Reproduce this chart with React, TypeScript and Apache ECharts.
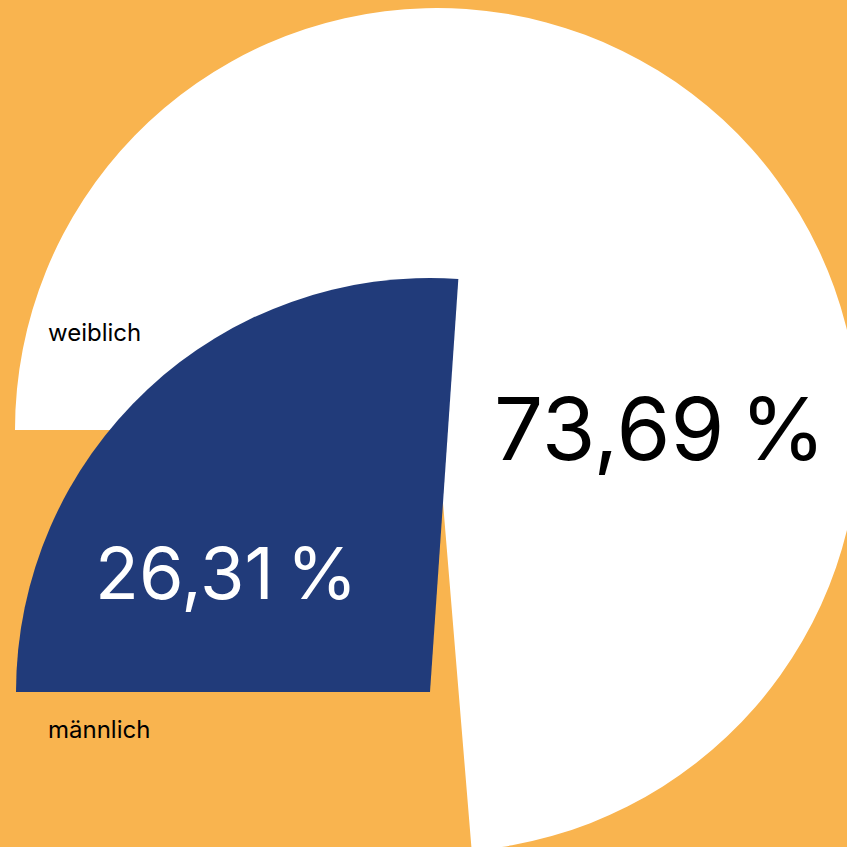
import React, { useEffect, useRef } from "react";
import * as echarts from "echarts";

const categories = ["weiblich", "männlich"];
const shares = [73.69, 26.31];
const percentLabels = ["73,69\u202F%", "26,31\u202F%"];

const ORANGE = "#F9B44F";
const WHITE = "#FFFFFF";
const BLUE = "#213B7A";
const FONT = "Inter, 'Noto Sans', sans-serif";

export default function App() {
  const ref = useRef<HTMLDivElement>(null);

  useEffect(() => {
    document.body.style.margin = "0";
    document.body.style.background = ORANGE;
    if (!ref.current) return;
    const chart = echarts.init(ref.current, null, { renderer: "svg" });

    const hidden = {
      itemStyle: { color: "transparent" },
      label: { show: false },
      labelLine: { show: false },
      emphasis: { disabled: true },
      silent: true,
    };

    const txt = (text: string, x: number, y: number, size: number, fill: string) => ({
      type: "text",
      x,
      y,
      z: 100,
      zlevel: 0,
      style: {
        text,
        fill,
        font: `400 ${size}px ${FONT}`,
        align: "left",
        verticalAlign: "middle",
      },
    });

    const option = {
      animation: false,
      backgroundColor: ORANGE,
      series: [
        {
          type: "pie",
          center: [437, 430],
          radius: 422,
          startAngle: 180,
          clockwise: true,
          silent: true,
          z: 1,
          label: { show: false },
          labelLine: { show: false },
          data: [
            { name: categories[0], value: shares[0], itemStyle: { color: WHITE } },
            { name: categories[1], value: shares[1], ...hidden },
          ],
        },
        {
          type: "pie",
          center: [430, 692],
          radius: 414,
          startAngle: 180,
          endAngle: -177,
          clockwise: true,
          silent: true,
          z: 2,
          label: { show: false },
          labelLine: { show: false },
          data: [
            { name: categories[1], value: shares[1], itemStyle: { color: BLUE } },
            { name: categories[0], value: shares[0], ...hidden },
          ],
        },
      ],
      graphic: [
        txt(categories[0], 48, 332, 24, "#000"),
        txt(categories[1], 48, 729, 24, "#000"),
        txt(percentLabels[0], 494, 428, 87, "#000"),
        txt(percentLabels[1], 95, 572, 72, WHITE),
      ],
    };

    chart.setOption(option);
    return () => chart.dispose();
  }, []);

  return <div ref={ref} style={{ width: 847, height: 847 }} />;
}
